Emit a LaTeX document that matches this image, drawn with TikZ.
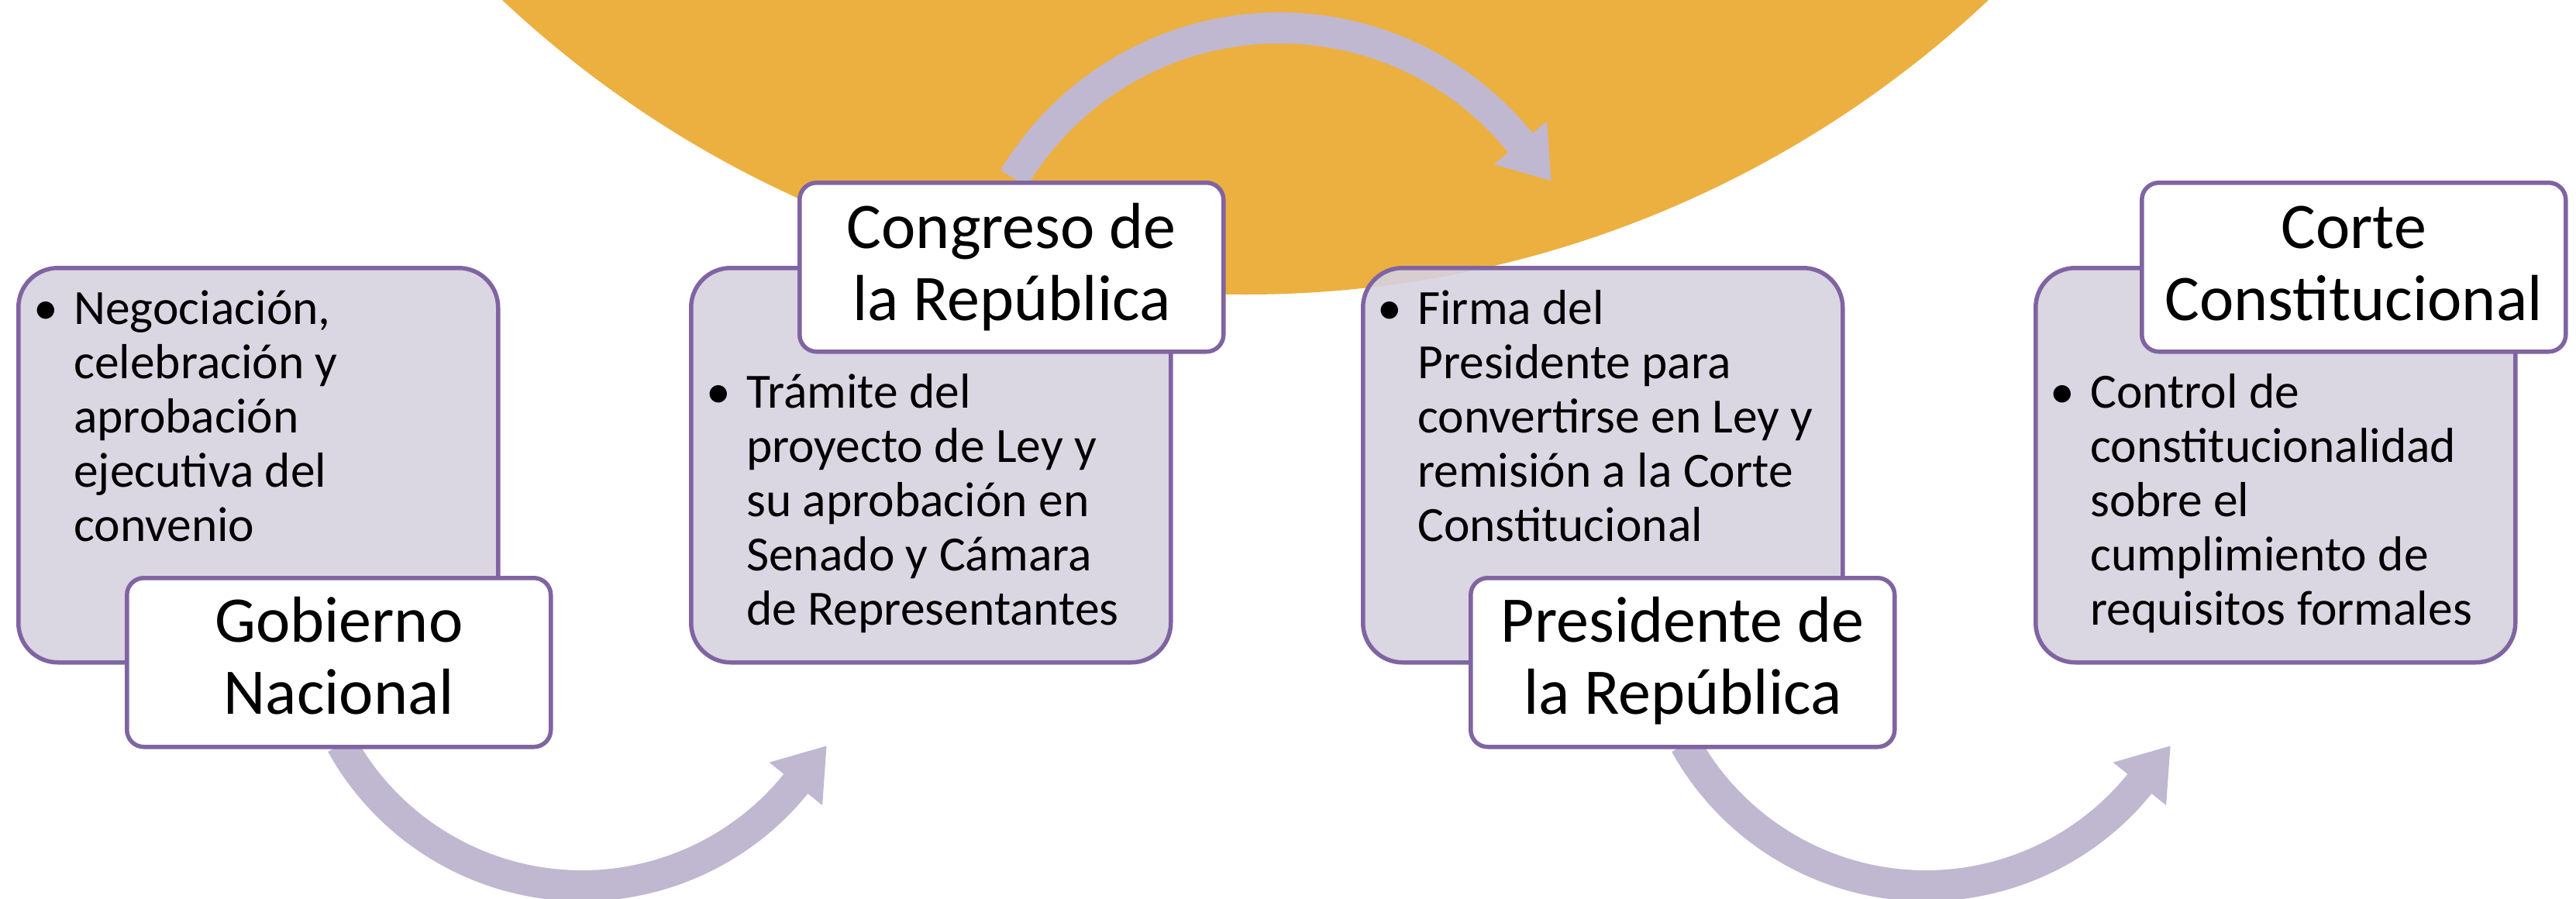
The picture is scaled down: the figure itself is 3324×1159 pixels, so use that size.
\documentclass[tikz,border=0pt]{standalone}
\usepackage{fontspec}
\setmainfont{Carlito}
\usetikzlibrary{calc}
\definecolor{orangeC}{HTML}{ECB040}
\definecolor{arrowC}{HTML}{C0B8D0}
\definecolor{boxfill}{RGB}{214,209,223}
\definecolor{purpleC}{HTML}{8064A2}
\tikzset{
  stepbox/.style={draw=purpleC, line width=5.5pt, fill=boxfill, fill opacity=0.9,
    rounded corners=51pt, minimum width=619pt, minimum height=509pt,
    anchor=north west, inner sep=0pt},
  titlebox/.style={draw=purpleC, line width=5.5pt, fill=white,
    rounded corners=22pt, minimum width=547pt, minimum height=218pt,
    anchor=north west, inner sep=0pt},
  titletext/.style={anchor=base, inner sep=0pt, font=\fontsize{84}{93}\selectfont},
  bodytext/.style={anchor=base west, inner sep=0pt, font=\fontsize{63.5}{70}\selectfont},
  band/.style={draw=arrowC, line width=40pt},
  headtip/.style={fill=arrowC}
}
\newcommand{\bul}{\leavevmode\llap{\textbullet\hspace{20pt}}}
\begin{document}
\begin{tikzpicture}[x=1pt,y=-1pt]
\useasboundingbox (0,0) rectangle (3324,1159);
% background circle
\fill[orangeC] (1607,-1020) circle[radius=1400];
% arrow centres
\coordinate (c1) at (751,788);
\coordinate (c2) at (1651,436);
\coordinate (c3) at (2485,788);
% arrow 1
\draw[band] ($(c1)+(151:355)$) coordinate (a1s) arc[start angle=151, end angle=38, radius=355];
\fill[headtip] ($(c1)+(39:311)$) -- ($(c1)+(39:355)+(-51:63)$) coordinate (a1e) -- ($(c1)+(39:399)$) -- cycle;
% arrow 2
\draw[band] ($(c2)+(211:400)$) coordinate (a2s) arc[start angle=211, end angle=322, radius=400];
\fill[headtip] ($(c2)+(321:356)$) -- ($(c2)+(321:400)+(51:63)$) coordinate (a2e) -- ($(c2)+(321:444)$) -- cycle;
% arrow 3
\draw[band] ($(c3)+(151:355)$) coordinate (a3s) arc[start angle=151, end angle=38, radius=355];
\fill[headtip] ($(c3)+(39:311)$) -- ($(c3)+(39:355)+(-51:63)$) coordinate (a3e) -- ($(c3)+(39:399)$) -- cycle;
% content boxes
\node[stepbox] (box1) at (21,343) {};
\node[stepbox] (box2) at (889,343) {};
\node[stepbox] (box3) at (1756,343) {};
\node[stepbox] (box4) at (2624,343) {};
% body texts
\node[bodytext] (txt1) at (95,418) {\parbox[t]{600pt}{\raggedright\bul Negociación,\\celebración y\\aprobación\\ejecutiva del\\convenio}};
\node[bodytext] (txt2) at (963,526) {\parbox[t]{600pt}{\raggedright\bul Trámite del\\proyecto de Ley y\\su aprobación en\\Senado y Cámara\\de Representantes}};
\node[bodytext] (txt3) at (1829,418) {\parbox[t]{600pt}{\raggedright\bul Firma del\\Presidente para\\convertirse en Ley y\\remisión a la Corte\\Constitucional}};
\node[bodytext] (txt4) at (2697,526) {\parbox[t]{600pt}{\raggedright\bul Control de\\constitucionalidad\\sobre el\\cumplimiento de\\requisitos formales}};
% title boxes
\node[titlebox] (lab1) at (161,743) {};
\node[titlebox] (lab2) at (1029,233) {};
\node[titlebox] (lab3) at (1895,743) {};
\node[titlebox] (lab4) at (2761,233) {};
\node[titletext] (ttl1) at ($(lab1.north)+(0,85)$) {\parbox[t]{560pt}{\centering Gobierno\\Nacional}};
\node[titletext] (ttl2) at ($(lab2.north)+(0,87)$) {\parbox[t]{560pt}{\centering Congreso de\\la República}};
\node[titletext] (ttl3) at ($(lab3.north)+(0,85)$) {\parbox[t]{560pt}{\centering Presidente de\\la República}};
\node[titletext] (ttl4) at ($(lab4.north)+(0,87)$) {\parbox[t]{560pt}{\centering Corte\\Constitucional}};
\end{tikzpicture}
\end{document}
